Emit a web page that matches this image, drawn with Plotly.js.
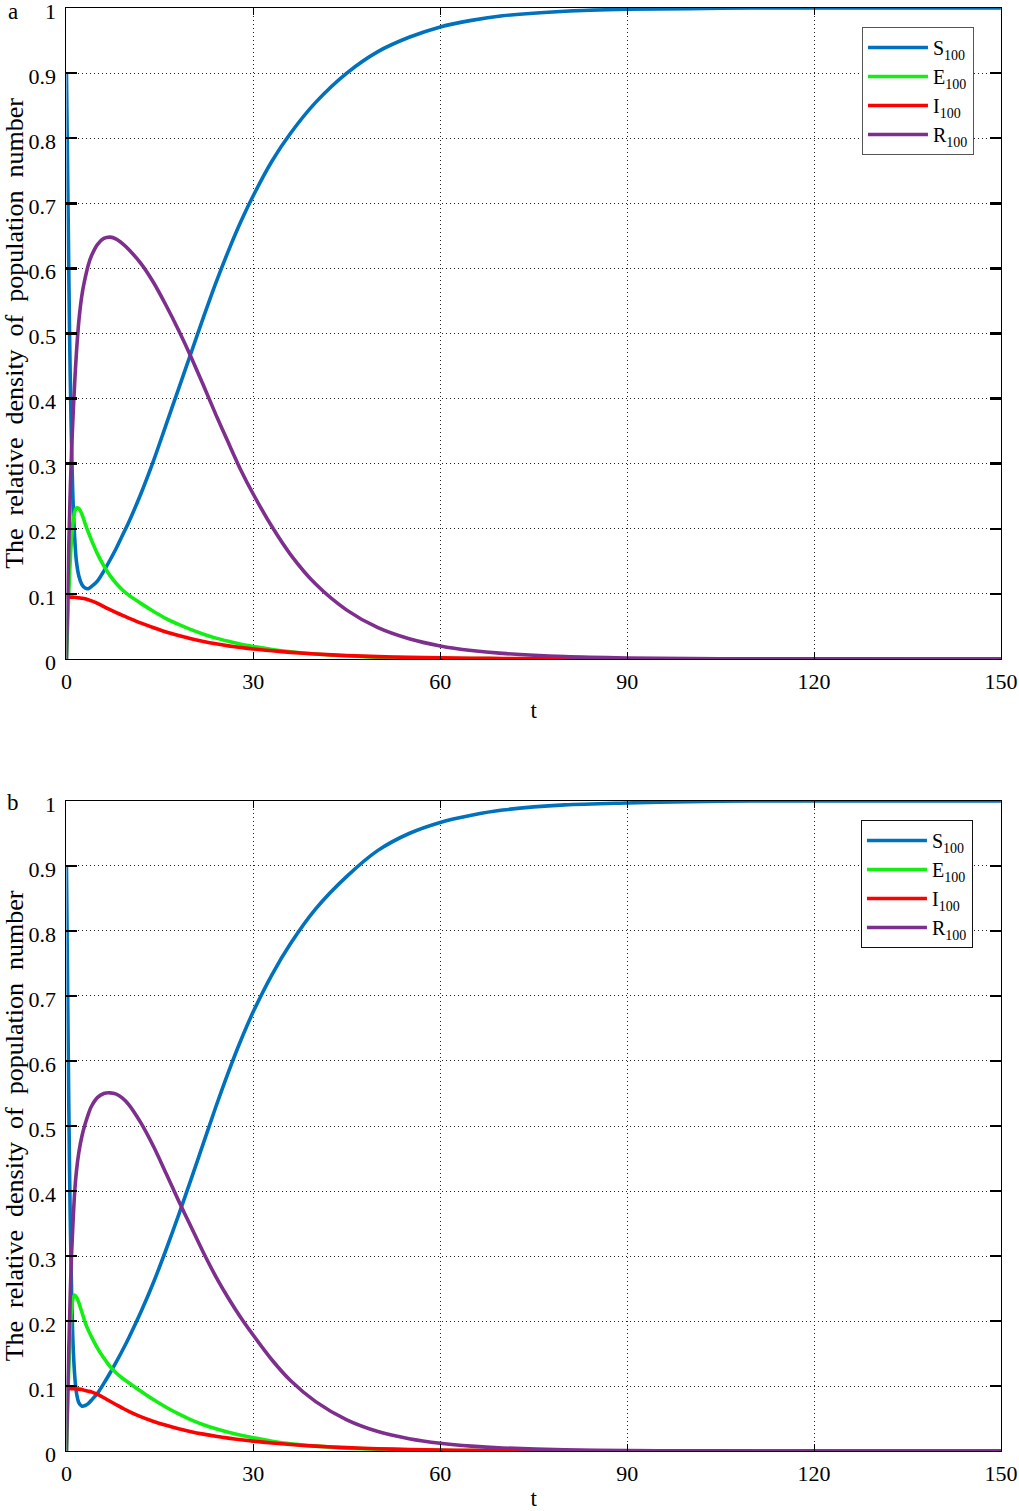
<!DOCTYPE html>
<html>
<head>
<meta charset="utf-8">
<script src="https://cdn.plot.ly/plotly-3.0.1.min.js"></script>
<style>html,body{margin:0;padding:0;background:#fff;}#chart{width:1019px;height:1511px;}</style>
</head>
<body>
<div id="chart"></div>
<script>
const t = [0, 0.25, 0.5, 0.75, 1, 1.3, 1.6, 2, 2.5, 3, 3.5, 4, 5, 6, 7, 8, 9, 10, 12, 14, 16, 18, 20, 22, 24, 26, 28, 30, 33, 36, 40, 45, 50, 55, 60, 65, 70, 80, 90, 100, 110, 120, 135, 150];

const Sa = [0.9, 0.70, 0.50, 0.36, 0.26, 0.19, 0.15, 0.127, 0.114, 0.109, 0.108, 0.111, 0.12, 0.135, 0.152, 0.17, 0.19, 0.21, 0.255, 0.305, 0.36, 0.415, 0.47, 0.525, 0.578, 0.627, 0.672, 0.712, 0.765, 0.808, 0.855, 0.9, 0.933, 0.955, 0.971, 0.981, 0.988, 0.995, 0.998, 0.999, 1, 1, 1, 1];
const Ea = [0, 0.07, 0.13, 0.175, 0.205, 0.225, 0.232, 0.231, 0.222, 0.208, 0.195, 0.183, 0.161, 0.143, 0.128, 0.116, 0.106, 0.098, 0.085, 0.073, 0.062, 0.053, 0.045, 0.038, 0.032, 0.027, 0.0225, 0.019, 0.0145, 0.011, 0.0075, 0.0045, 0.0027, 0.0016, 0.001, 0.0006, 0.0004, 0.0001, 0, 0, 0, 0, 0, 0];
const Ia = [0.095, 0.095, 0.095, 0.095, 0.0949, 0.0947, 0.0944, 0.0938, 0.0932, 0.0923, 0.091, 0.0893, 0.0855, 0.0805, 0.0757, 0.0712, 0.0669, 0.0628, 0.055, 0.048, 0.0415, 0.036, 0.031, 0.0268, 0.0232, 0.0201, 0.0175, 0.0153, 0.0125, 0.0101, 0.0076, 0.0052, 0.0035, 0.0024, 0.0016, 0.001, 0.0007, 0.0003, 0.0001, 0, 0, 0, 0, 0];
const Ra = [0, 0.12, 0.22, 0.30, 0.36, 0.42, 0.47, 0.52, 0.56, 0.585, 0.605, 0.619, 0.637, 0.646, 0.648, 0.645, 0.638, 0.629, 0.607, 0.578, 0.543, 0.505, 0.464, 0.42, 0.375, 0.332, 0.29, 0.253, 0.203, 0.16, 0.115, 0.075, 0.048, 0.031, 0.02, 0.013, 0.0085, 0.0036, 0.0015, 0.0006, 0.0003, 0.0001, 0, 0];

const Sb = [0.9, 0.65, 0.43, 0.28, 0.18, 0.12, 0.09, 0.074, 0.069, 0.07, 0.073, 0.078, 0.089, 0.104, 0.12, 0.137, 0.155, 0.174, 0.215, 0.26, 0.31, 0.363, 0.418, 0.474, 0.53, 0.583, 0.632, 0.676, 0.733, 0.781, 0.834, 0.884, 0.924, 0.95, 0.967, 0.978, 0.986, 0.994, 0.997, 0.999, 1, 1, 1, 1];
const Eb = [0, 0.09, 0.16, 0.21, 0.232, 0.24, 0.237, 0.228, 0.213, 0.198, 0.186, 0.176, 0.158, 0.143, 0.13, 0.12, 0.112, 0.105, 0.0915, 0.0788, 0.0673, 0.057, 0.048, 0.0405, 0.0342, 0.0288, 0.0242, 0.0203, 0.015, 0.011, 0.0075, 0.0045, 0.0028, 0.0017, 0.001, 0.0006, 0.0004, 0.0001, 0, 0, 0, 0, 0, 0];
const Ib = [0.096, 0.096, 0.096, 0.096, 0.096, 0.0958, 0.0955, 0.0952, 0.0945, 0.093, 0.092, 0.091, 0.087, 0.082, 0.0765, 0.0712, 0.066, 0.061, 0.0525, 0.0455, 0.0395, 0.0343, 0.0298, 0.026, 0.0227, 0.0198, 0.0173, 0.0152, 0.0124, 0.01, 0.0075, 0.0052, 0.0035, 0.0024, 0.0016, 0.001, 0.0007, 0.0003, 0.0001, 0, 0, 0, 0, 0];
const Rb = [0, 0.11, 0.2, 0.285, 0.34, 0.395, 0.43, 0.46, 0.485, 0.503, 0.518, 0.53, 0.544, 0.55, 0.551, 0.549, 0.543, 0.533, 0.504, 0.468, 0.427, 0.385, 0.345, 0.305, 0.268, 0.235, 0.205, 0.178, 0.14, 0.108, 0.076, 0.048, 0.03, 0.019, 0.012, 0.0075, 0.0047, 0.0018, 0.0007, 0.0003, 0.0001, 0, 0, 0];

const seriesNames = ['S<sub>100</sub>', 'E<sub>100</sub>', 'I<sub>100</sub>', 'R<sub>100</sub>'];
const seriesColors = ['#0072bd', '#13ef13', '#ff0000', '#7e2f8e'];
const xTicks = [0, 30, 60, 90, 120, 150];
const yTicks = [0, 0.1, 0.2, 0.3, 0.4, 0.5, 0.6, 0.7, 0.8, 0.9, 1];
const yTitle = 'The\u00a0\u00a0relative\u00a0\u00a0density\u00a0\u00a0of\u00a0\u00a0population\u00a0\u00a0number';
const panelLabels = ['a', 'b'];

const FONT = 'Liberation Serif, Times New Roman, serif';
const panels = [[Sa, Ea, Ia, Ra], [Sb, Eb, Ib, Rb]];
const traces = [];
panels.forEach((set, p) => {
  set.forEach((vals, k) => {
    traces.push({
      x: t, y: vals, type: 'scatter', mode: 'lines',
      name: seriesNames[k],
      xaxis: p === 0 ? 'x' : 'x2',
      yaxis: p === 0 ? 'y' : 'y2',
      legend: p === 0 ? 'legend' : 'legend2',
      line: {color: seriesColors[k], width: 3.6, shape: 'spline', smoothing: 0.8},
      hoverinfo: 'skip'
    });
  });
});

function xax(anchor) {
  return {
    domain: [0.0652, 0.9823], anchor: anchor, range: [0, 150],
    tickmode: 'array', tickvals: xTicks,
    ticks: 'inside', ticklen: 7, tickwidth: 1, tickcolor: '#000',
    showline: true, linecolor: '#000', linewidth: 1, mirror: 'ticks',
    showgrid: true, gridcolor: '#222', gridwidth: 1, griddash: '1px,3px',
    zeroline: false, ticklabelstandoff: 3, ticklabeloverflow: 'allow',
    tickfont: {family: FONT, size: 22, color: '#000'},
    title: {text: 't', font: {family: FONT, size: 23, color: '#000'}, standoff: 8}
  };
}
function yax(domainY, anchor) {
  return {
    domain: domainY, anchor: anchor, range: [0, 1],
    tickmode: 'array', tickvals: yTicks,
    ticks: 'inside', ticklen: 11, tickwidth: 2.5, tickcolor: '#000',
    showline: true, linecolor: '#000', linewidth: 1, mirror: 'ticks',
    showgrid: true, gridcolor: '#222', gridwidth: 1, griddash: '1px,3px',
    zeroline: false, ticklabelstandoff: 5, ticklabelshift: 3, ticklabeloverflow: 'allow',
    tickfont: {family: FONT, size: 22, color: '#000'},
    title: {text: yTitle, font: {family: FONT, size: 26, color: '#000'}, standoff: 6}
  };
}

const legendBase = {
  xanchor: 'left', yanchor: 'top', bgcolor: '#fff', borderwidth: 1,
  font: {family: FONT, size: 20, color: '#000'}, itemwidth: 60, tracegroupgap: 0
};

const layout = {
  width: 1019, height: 1511,
  margin: {l: 0, r: 0, t: 0, b: 0},
  paper_bgcolor: '#fff', plot_bgcolor: '#fff',
  font: {family: FONT, size: 22, color: '#000'},
  xaxis: xax('y'),
  yaxis: yax([0.5639, 0.9947], 'x'),
  xaxis2: xax('y2'),
  yaxis2: yax([0.0397, 0.4699], 'x2'),
  legend: Object.assign({}, legendBase, {x: 0.8459, y: 0.9821, bordercolor: '#555'}),
  legend2: Object.assign({}, legendBase, {x: 0.8449, y: 0.4573, bordercolor: '#111'}),
  annotations: panelLabels.map((lab, i) => ({
    text: lab, xref: 'paper', yref: 'paper', showarrow: false,
    x: 0.0128, y: i === 0 ? 0.9921 : 0.4686, xanchor: 'center', yanchor: 'middle',
    font: {family: FONT, size: 23, color: '#000'}
  })),
  showlegend: true
};

Plotly.newPlot('chart', traces, layout, {staticPlot: true, responsive: false});
</script>
</body>
</html>
